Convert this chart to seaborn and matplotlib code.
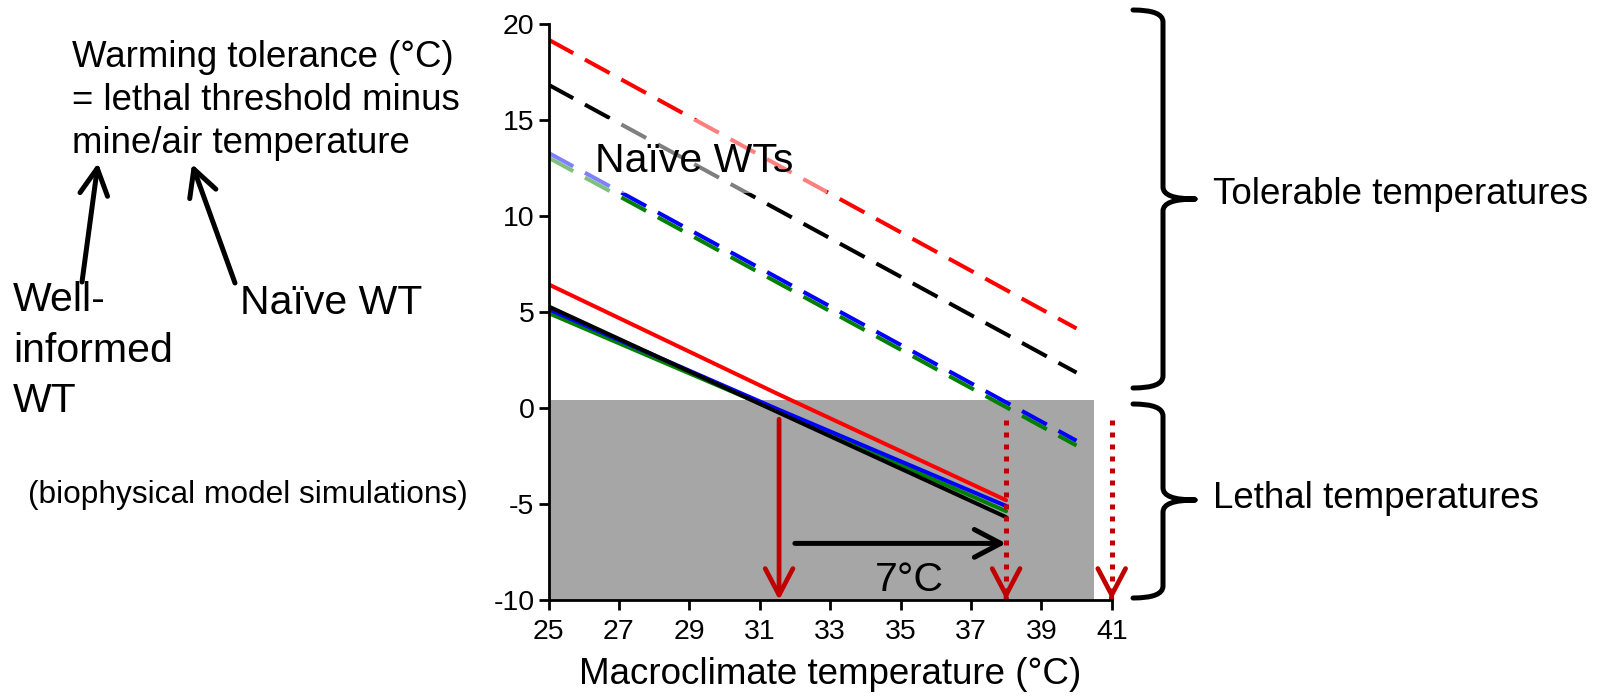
import matplotlib
matplotlib.use("Agg")
import matplotlib.pyplot as plt
import seaborn as sns
import pandas as pd
from matplotlib.patches import Rectangle, FancyArrowPatch, PathPatch
from matplotlib.path import Path

# well-informed WT (solid) and naive WT (dashed)
temp_well = [25, 31.5, 38]
wt_well = {
    "green": [4.95, -0.15, -5.37],
    "blue": [5.15, -0.05, -5.1],
    "black": [5.3, -0.2, -5.68],
    "red": [6.45, 0.75, -4.8],
}
temp_naive = [25, 40]
wt_naive = {
    "green": [13.05, -1.95],
    "blue": [13.3, -1.7],
    "black": [16.85, 1.85],
    "red": [19.2, 4.15],
}
colors = {"green": "#008000", "blue": "#0000FF", "black": "#000000", "red": "#FF0000"}

x_ticks = list(range(25, 42, 2))
y_ticks = [-10, -5, 0, 5, 10, 15, 20]

W, H = 1601, 698


def fxy(px, py):
    return px / W, 1 - py / H


def make_df(temps, table, kind):
    rows = []
    for name, vals in table.items():
        for t, v in zip(temps, vals):
            rows.append({"temp": t, "wt": v, "series": name, "kind": kind})
    return pd.DataFrame(rows)


sns.set_theme(style="ticks")
plt.rcParams["font.family"] = ["Liberation Sans", "DejaVu Sans"]
plt.rcParams["text.color"] = "black"
plt.rcParams["axes.labelcolor"] = "black"
plt.rcParams["xtick.color"] = "black"
plt.rcParams["ytick.color"] = "black"
plt.rcParams["axes.unicode_minus"] = False

fig = plt.figure(figsize=(W / 100, H / 100), dpi=100)
ax = fig.add_axes([548.5 / W, 1 - 600 / H, (1111.7 - 548.5) / W, (600 - 24.3) / H])

# lethal zone
ax.add_patch(Rectangle((25, -10), 15.5, 10.4, facecolor="#A6A6A6", lw=0, zorder=0.5))

df_naive = make_df(temp_naive, wt_naive, "naive")
df_well = make_df(temp_well, wt_well, "well")

sns.lineplot(data=df_naive, x="temp", y="wt", hue="series", style="kind",
             dashes={"naive": (7, 3.3)}, palette=colors, lw=2.9,
             legend=False, ax=ax, zorder=2)
sns.lineplot(data=df_well, x="temp", y="wt", hue="series", style="kind",
             dashes={"well": ""}, palette=colors, lw=2.9,
             legend=False, ax=ax, zorder=2)

# label box that fades the dashed lines behind it
ax.add_patch(Rectangle((25, 11.2), 7.9, 3.85, facecolor="white", alpha=0.5, lw=0, zorder=3))
ax.text(29.13, 12.9, "Naïve WTs", fontsize=29.5, ha="center", va="center", zorder=4)

ax.set_xlim(25, 41)
ax.set_ylim(-10, 20)
ax.set_xticks(x_ticks)
ax.set_yticks(y_ticks)
ax.set_xlabel("Macroclimate temperature (°C)", fontsize=26.5, labelpad=8)
ax.set_ylabel("")
ax.tick_params(labelsize=20.5, width=2, length=7)
ax.tick_params(axis="x", pad=7)
ax.tick_params(axis="y", pad=3)
for side in ["top", "right"]:
    ax.spines[side].set_visible(False)
for side in ["left", "bottom"]:
    ax.spines[side].set_linewidth(2)
    ax.spines[side].set_color("black")
    ax.spines[side].set_zorder(5)
ax.set_facecolor("white")
ax.grid(False)

dark_red = "#C00000"
head = "->,head_length=0.95,head_width=0.5"

# solid arrow down from where well-informed WT hits zero
ax.add_patch(FancyArrowPatch((31.55, -0.58), (31.55, -10), arrowstyle=head, mutation_scale=20,
                             color=dark_red, lw=3.4, shrinkA=0, shrinkB=0, zorder=4,
                             capstyle="round", joinstyle="round"))

# dotted arrows at 38 and 41
for xv in [38, 41]:
    ax.plot([xv, xv], [-0.6, -9.8], color=dark_red, lw=3.6, dashes=(1, 1.4),
            solid_capstyle="butt", clip_on=False, zorder=4)
    ax.add_patch(FancyArrowPatch((xv, -9.9), (xv, -10), arrowstyle=head, mutation_scale=20,
                                 color=dark_red, lw=3.4, shrinkA=0, shrinkB=0, zorder=4,
                                 clip_on=False, capstyle="round", joinstyle="round"))

# shift arrow
ax.add_patch(FancyArrowPatch((32, -7.05), (38, -7.05), arrowstyle=head, mutation_scale=20,
                             color="black", lw=3.6, shrinkA=0, shrinkB=0, zorder=4,
                             capstyle="round", joinstyle="round"))
ax.text(35.24, -8.96, "7°C", fontsize=29.5, ha="center", va="center", zorder=4)

# left annotations
fig.text(*fxy(72, 40), "Warming tolerance (°C)\n= lethal threshold minus\nmine/air temperature",
         fontsize=26.4, ha="left", va="top", linespacing=1.3)
fig.text(*fxy(13, 281), "Well-\ninformed\nWT", fontsize=29.5, ha="left", va="top", linespacing=1.42)
fig.text(*fxy(240, 284), "Naïve WT", fontsize=29.5, ha="left", va="top")
fig.text(*fxy(28, 480), "(biophysical model simulations)", fontsize=22.8, ha="left", va="top")

for start, end in [((82, 282), (98, 163)), ((235, 283), (192, 164))]:
    fig.patches.append(FancyArrowPatch(fxy(*start), fxy(*end), transform=fig.transFigure,
                                       arrowstyle=head, mutation_scale=20, color="black", lw=3.6,
                                       shrinkA=0, shrinkB=0, capstyle="round", joinstyle="round"))


def brace(x_tip, x_spine, x_point, y_top, y_mid, y_bot, r=12):
    verts = [
        (x_tip, y_top), (x_spine, y_top), (x_spine, y_top + r),
        (x_spine, y_mid - r), (x_spine, y_mid), (x_point, y_mid),
        (x_point, y_mid), (x_spine, y_mid), (x_spine, y_mid + r),
        (x_spine, y_bot - r), (x_spine, y_bot), (x_tip, y_bot),
    ]
    codes = [Path.MOVETO, Path.CURVE3, Path.CURVE3, Path.LINETO, Path.CURVE3, Path.CURVE3,
             Path.MOVETO, Path.CURVE3, Path.CURVE3, Path.LINETO, Path.CURVE3, Path.CURVE3]
    path = Path([fxy(*v) for v in verts], codes)
    fig.patches.append(PathPatch(path, transform=fig.transFigure, fill=False, lw=3.6,
                                 edgecolor="black", capstyle="round", joinstyle="round"))


brace(1133, 1163, 1195, 10, 199, 388)
brace(1133, 1163, 1195, 404, 500, 598)
fig.text(*fxy(1213, 194), "Tolerable temperatures", fontsize=26.5, ha="left", va="center")
fig.text(*fxy(1213, 498), "Lethal temperatures", fontsize=26.5, ha="left", va="center")

fig.savefig("out.png", dpi=100, facecolor="white")
